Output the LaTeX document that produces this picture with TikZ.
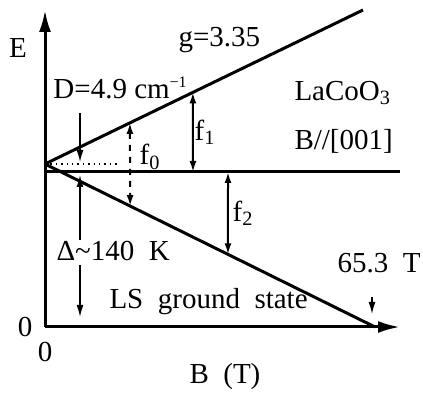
\documentclass[tikz,border=0pt]{standalone}
\usepackage{fontspec}
\setmainfont{Liberation Serif}
\usetikzlibrary{arrows.meta,calc}

\begin{document}
\begin{tikzpicture}[x=0.5pt,y=0.5pt,line width=1.5pt,
    every node/.style={font=\fontsize{14.5}{17}\selectfont,inner sep=0pt},
    axis/.style={-{Latex[length=11pt,width=6pt]}},
    gap/.style={{Latex[length=5.5pt,width=3.5pt]}-{Latex[length=5.5pt,width=3.5pt]},line width=1pt},
    pointer/.style={-{Latex[length=6pt,width=3.5pt]},line width=0.7pt}]
  \useasboundingbox (0,0) rectangle (423,396);
  % axes
  \coordinate (o) at (45,69);
  \coordinate (ytop) at (45,386);
  \coordinate (xend) at (400,69);
  \draw[axis] (o) -- (ytop);
  \draw[axis] (o) -- (xend);
  % levels
  \coordinate (hs) at (45,224);
  \coordinate (he) at (400,224);
  \coordinate (s) at (45,232);
  \coordinate (up) at (363,386);
  \coordinate (lo) at (375,69);
  \coordinate (dot) at (117,232);
  \draw (hs) -- (he);
  \draw (s) -- (up);
  \draw (s) -- (lo);
  \draw[dotted,line width=0.7pt] (s) -- (dot);
  % transitions
  \coordinate (f0a) at ($(s)!0.267!(up)$);
  \coordinate (f0b) at ($(s)!0.258!(lo)$);
  \coordinate (f1a) at ($(s)!0.465!(up)$);
  \coordinate (f1b) at (193,224);
  \coordinate (f2a) at (228,224);
  \coordinate (f2b) at ($(s)!0.5545!(lo)$);
  \draw[gap,dashed] (f0a) -- (f0b);
  \draw[gap] (f1a) -- (f1b);
  \draw[gap] (f2a) -- (f2b);
  % labels
  \node (e) at (18,348) {E};
  \node (g) [anchor=west] at (177,356) {g=3.35};
  \node (d) [anchor=west] at (52,308) {D=4.9 cm\textsuperscript{\footnotesize −1}};
  \node (f0) at (150,239) {f\textsubscript{0}};
  \node (f1) at (205,264) {f\textsubscript{1}};
  \node (f2) at (243,183) {f\textsubscript{2}};
  \node (mat) [anchor=west] at (293,303) {LaCoO\textsubscript{3}};
  \node (dir) [anchor=west] at (293,255) {B//[001]};
  \node (delta) [anchor=west] at (55,145) {Δ\textasciitilde 140\ \ K};
  \node (ls) [anchor=west] at (108,94) {LS\ \ ground\ \ state};
  \node (crit) [anchor=east] at (422,133) {65.3\ \ T};
  \node (y0) at (25,69) {0};
  \node (x0) at (45,44) {0};
  \node (bt) [anchor=west] at (188,19) {B\ \ (T)};
  % pointers
  \coordinate (da) at (80,283);
  \coordinate (db) at (80,234);
  \coordinate (ua) at (80,156);
  \coordinate (ub) at (80,221);
  \coordinate (va) at (80,131);
  \coordinate (vb) at (80,79);
  \coordinate (ca) at (372,99);
  \coordinate (cb) at (372,82);
  \draw[pointer] (da) -- (db);
  \draw[pointer] (ua) -- (ub);
  \draw[pointer] (va) -- (vb);
  \draw[pointer] (ca) -- (cb);
\end{tikzpicture}
\end{document}
